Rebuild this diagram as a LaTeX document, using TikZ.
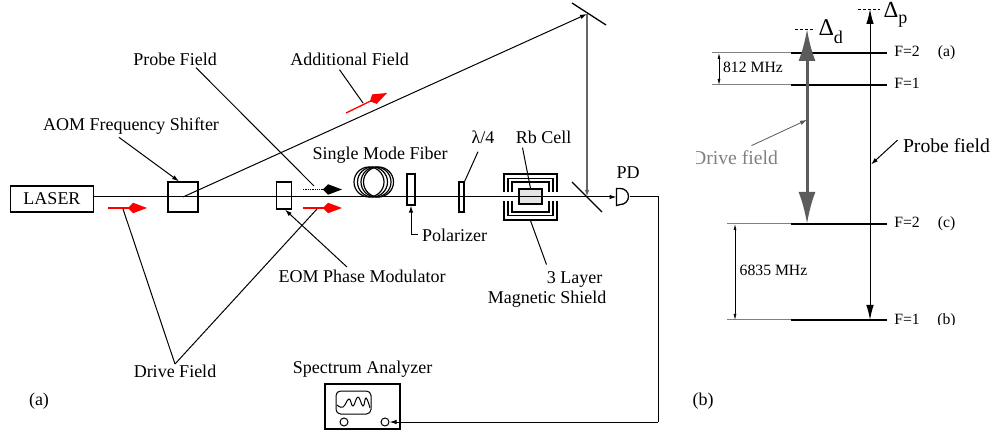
\documentclass[tikz,border=0pt]{standalone}
\usepackage{fontspec}
\setmainfont{Liberation Serif}
\usetikzlibrary{positioning}
\usetikzlibrary{calc}
\usetikzlibrary{arrows.meta}
\definecolor{drivegray}{gray}{0.36}
\tikzset{every picture/.style={line width=1pt},
big/.style={font=\fontsize{18}{20}\selectfont,inner sep=0pt,anchor=base},
bigger/.style={font=\fontsize{19.7}{22}\selectfont,inner sep=0pt,anchor=base},
small/.style={font=\fontsize{15.7}{18}\selectfont,inner sep=0pt,anchor=base},
part/.style={draw,line width=1.3pt,inner sep=0pt},
pointer/.style={-{Latex[length=7pt,width=4.5pt]}},
fieldmark/.style={-{Kite[length=19pt,width=10.5pt,inset=5pt]},line width=1.3pt},
level/.style={line width=2pt},
levelext/.style={line width=1pt,gray},
span/.style={{Latex[length=6pt,width=3pt]}-{Latex[length=6pt,width=3pt]},line width=0.7pt},
probetip/.style={{Latex[length=15pt,width=7.5pt]}-{Latex[length=15pt,width=7.5pt]},line width=1pt},
drivetip/.style={{Latex[length=32pt,width=17pt]}-{Latex[length=32pt,width=17pt]},line width=3pt,drivegray}}

\begin{document}
\begin{tikzpicture}[x=1pt,y=-1pt]
\useasboundingbox (0,0) rectangle (995,435);
\node (laser) at (52,199) [part,minimum width=82.5pt,minimum height=26pt,font=\fontsize{18}{20}\selectfont] {LASER};
\node (aom) at (183,197) [part,minimum size=30pt] {};
\node (eom) at (284,195.5) [part,minimum width=15pt,minimum height=27pt] {};
\node (polarizer) at (411,189.5) [part,minimum width=8pt,minimum height=31pt] {};
\node (plate) at (461.5,197) [part,minimum width=5pt,minimum height=30pt] {};
\node (cell) at (530.5,196.5) [part,fill=gray!20,minimum width=23pt,minimum height=15pt] {};
\node (pd) at (623,197) [inner sep=0pt,minimum width=12pt,minimum height=16pt] {};
\draw[line width=1.3pt] (pd.north west) -- +(4,0) arc (90:-90:8pt) -- (pd.south west) -- cycle;
\coordinate (upper) at (587,14);
\coordinate (lower) at (587,197);
\coordinate (turn) at (658,197);
\coordinate (down) at (658,422);

\draw[line width=1.3pt] (572,3) -- (606,25);
\draw[line width=1.3pt] (572,182) -- (602,212);
\foreach \w/\h in {26.5/23, 22.5/18.5, 18.5/15} {
\draw[line width=1.2pt] (530.5-\w,192.5) |- (530.5+\w,197-\h) -- (530.5+\w,192.5);
\draw[line width=1.2pt] (530.5-\w,201.5) |- (530.5+\w,197+\h) -- (530.5+\w,201.5);
}
\foreach \x in {369, 372.5, 376, 378.5} {
\draw[line width=1.2pt] (\x,182) circle (15pt);
}

\draw[pointer] (laser.east |- aom) -- (pd.west);
\draw (pd.east) -- (turn) -- (down);
\node (analyzer) at (362.5,406.5) [part,minimum width=75pt,minimum height=45pt] {};
\node (screen) at (353.5,402.5) [draw,rounded corners=1ex,minimum width=35pt,minimum height=23pt,inner sep=0pt] {};
\node (knoba) at (344,422) [draw,circle,minimum size=8pt,inner sep=0pt] {};
\node (knobb) at (385,422) [draw,circle,minimum size=8pt,inner sep=0pt] {};
\draw[pointer] (down) -- (knobb.east);
\draw[smooth,tension=0.8] plot coordinates {(337,405) (343,407) (349,399) (353,406) (358,397) (363,406) (366,398) (370,408)};
\draw[pointer] (aom.center) -- (upper);
\draw[pointer,line width=1.5pt,gray!80!black] (upper) -- (lower);

\node (aomlabel) at (131,131) [big] {AOM Frequency Shifter};
\node (probelabel) at (175,66) [big] {Probe Field};
\node (addlabel) at (349.5,66) [big] {Additional Field};
\node (fiberlabel) at (380,160) [big] {Single Mode Fiber};
\node (platelabel) at (483,144) [big] {λ/4};
\node (celllabel) at (543.5,144) [big] {Rb Cell};
\node (pdlabel) at (628,179) [big] {PD};
\node (pollabel) at (454.5,242) [big] {Polarizer};
\node (eomlabel) at (362,283) [big] {EOM Phase Modulator};
\node (shieldlabela) at (574.5,284) [big] {3 Layer};
\node (shieldlabelb) at (547,304) [big] {Magnetic Shield};
\node (drivelabel) at (175,377) [big] {Drive Field};
\node (speclabel) at (362.5,373) [big] {Spectrum Analyzer};
\node (parta) at (39,405) [big] {(a)};
\node (partb) at (703,405) [big] {(b)};

\draw[fieldmark,red] (108,208) coordinate (marka) -- (147,208) coordinate (markaend);
\draw[fieldmark,red] (303,208) coordinate (markb) -- (342,208) coordinate (markbend);
\draw[fieldmark,red] (346,113) coordinate (markc) -- (387,93) coordinate (markcend);
\draw[fieldmark,black,densely dotted] (303,189.5) coordinate (markd) -- (342,189.5) coordinate (markdend);

\draw[pointer] ($(aomlabel.south)+(-12,2)$) -- ($(aom.north)+(-4,0)$);
\draw ($(probelabel.south)+(21,1)$) -- ($(markd)+(11,-3.5)$);
\draw ($(addlabel.south)+(-10,3)$) -- ($(markc)+(17,-10)$);
\draw ($(platelabel.south)+(-5,7)$) -- (plate.north east);
\draw ($(celllabel.south)+(-21,3)$) -- (cell.north);
\draw ($(shieldlabela.north)+(-28,-7)$) -- ($(cell.south)+(0,16)$);
\draw[pointer] ($(eomlabel.north)+(-15,-3)$) -- ($(eom.south)+(1,0)$);
\draw[pointer] ($(pollabel.west)+(-4,-1)$) -| (polarizer.south);
\draw (drivelabel.north) -- ($(marka)+(15,1)$);
\draw (drivelabel.north) -- ($(markb)+(14,1)$);

\foreach \y/\f/\t in {53/2/(a), 85/1/, 224/2/(c)} {
\node (f\y) at (907,\y+4) [small] {F=\f};
\node (t\y) at (946.5,\y+4) [small] {\t};
}
\begin{scope}
\clip (880,300) rectangle (995,324.5);
\node (f320) at (907,324) [small] {F=1};
\node (t320) at (946.5,324) [small] {(b)};
\end{scope}
\foreach \y in {53, 85, 224, 320} {
\coordinate (l\y) at (791,\y);
\coordinate (r\y) at (887,\y);
\draw[level] (l\y) -- (r\y);
}
\coordinate (e53) at (712,53);
\coordinate (e85) at (712,85);
\coordinate (e224) at (727,224);
\coordinate (e320) at (727,320);
\foreach \y in {53, 85, 224, 320} {
\draw[levelext] (e\y) -- (l\y);
}
\draw[span] ($(e53)+(7,0)$) -- ($(e85)+(7,0)$);
\draw[span] ($(e224)+(8,0)$) -- ($(e320)+(8,0)$);
\node (gapa) at (753,73) [small] {812 MHz};
\node (gapb) at (773.5,276) [small] {6835 MHz};

\coordinate (drivetop) at (807,29);
\coordinate (drivebot) at (807,224);
\coordinate (probetop) at (870,9);
\coordinate (probebot) at (870,320);
\draw[drivetip] (drivetop) -- (drivebot);
\draw[probetip] (probetop) -- (probebot);
\draw[dash pattern=on 2.5pt off 2.5pt,line width=0.8pt] ($(drivetop)+(-12,0)$) -- ($(drivetop)+(8,0)$);
\draw[dash pattern=on 2.5pt off 2.5pt,line width=0.8pt] ($(probetop)+(-12,0)$) -- ($(probetop)+(10,0)$);
\node (deltad) at (818,36) [inner sep=0pt,anchor=base west,font=\fontsize{18}{20}\selectfont] {{\fontsize{24}{24}\selectfont Δ}\raisebox{-8pt}{d}};
\node (deltap) at (883,17.5) [inner sep=0pt,anchor=base west,font=\fontsize{18}{20}\selectfont] {{\fontsize{23}{23}\selectfont Δ}\raisebox{-6pt}{p}};

\begin{scope}
\clip (696,140) rectangle (800,175);
\node (drivefield) at (735,165) [bigger,text=gray] {Drive field};
\end{scope}
\draw[pointer,gray!70!black,line width=0.8pt] ($(drivefield.north east)+(-27,-5)$) -- ($(drivetop)!0.466!(drivebot)$);
\node (probefield) at (946.5,153) [bigger] {Probe field};
\draw[pointer] ($(probefield.west)+(-5,-6)$) -- ($(probetop)!0.5!(probebot)+(1,0)$);
\end{tikzpicture}
\end{document}
